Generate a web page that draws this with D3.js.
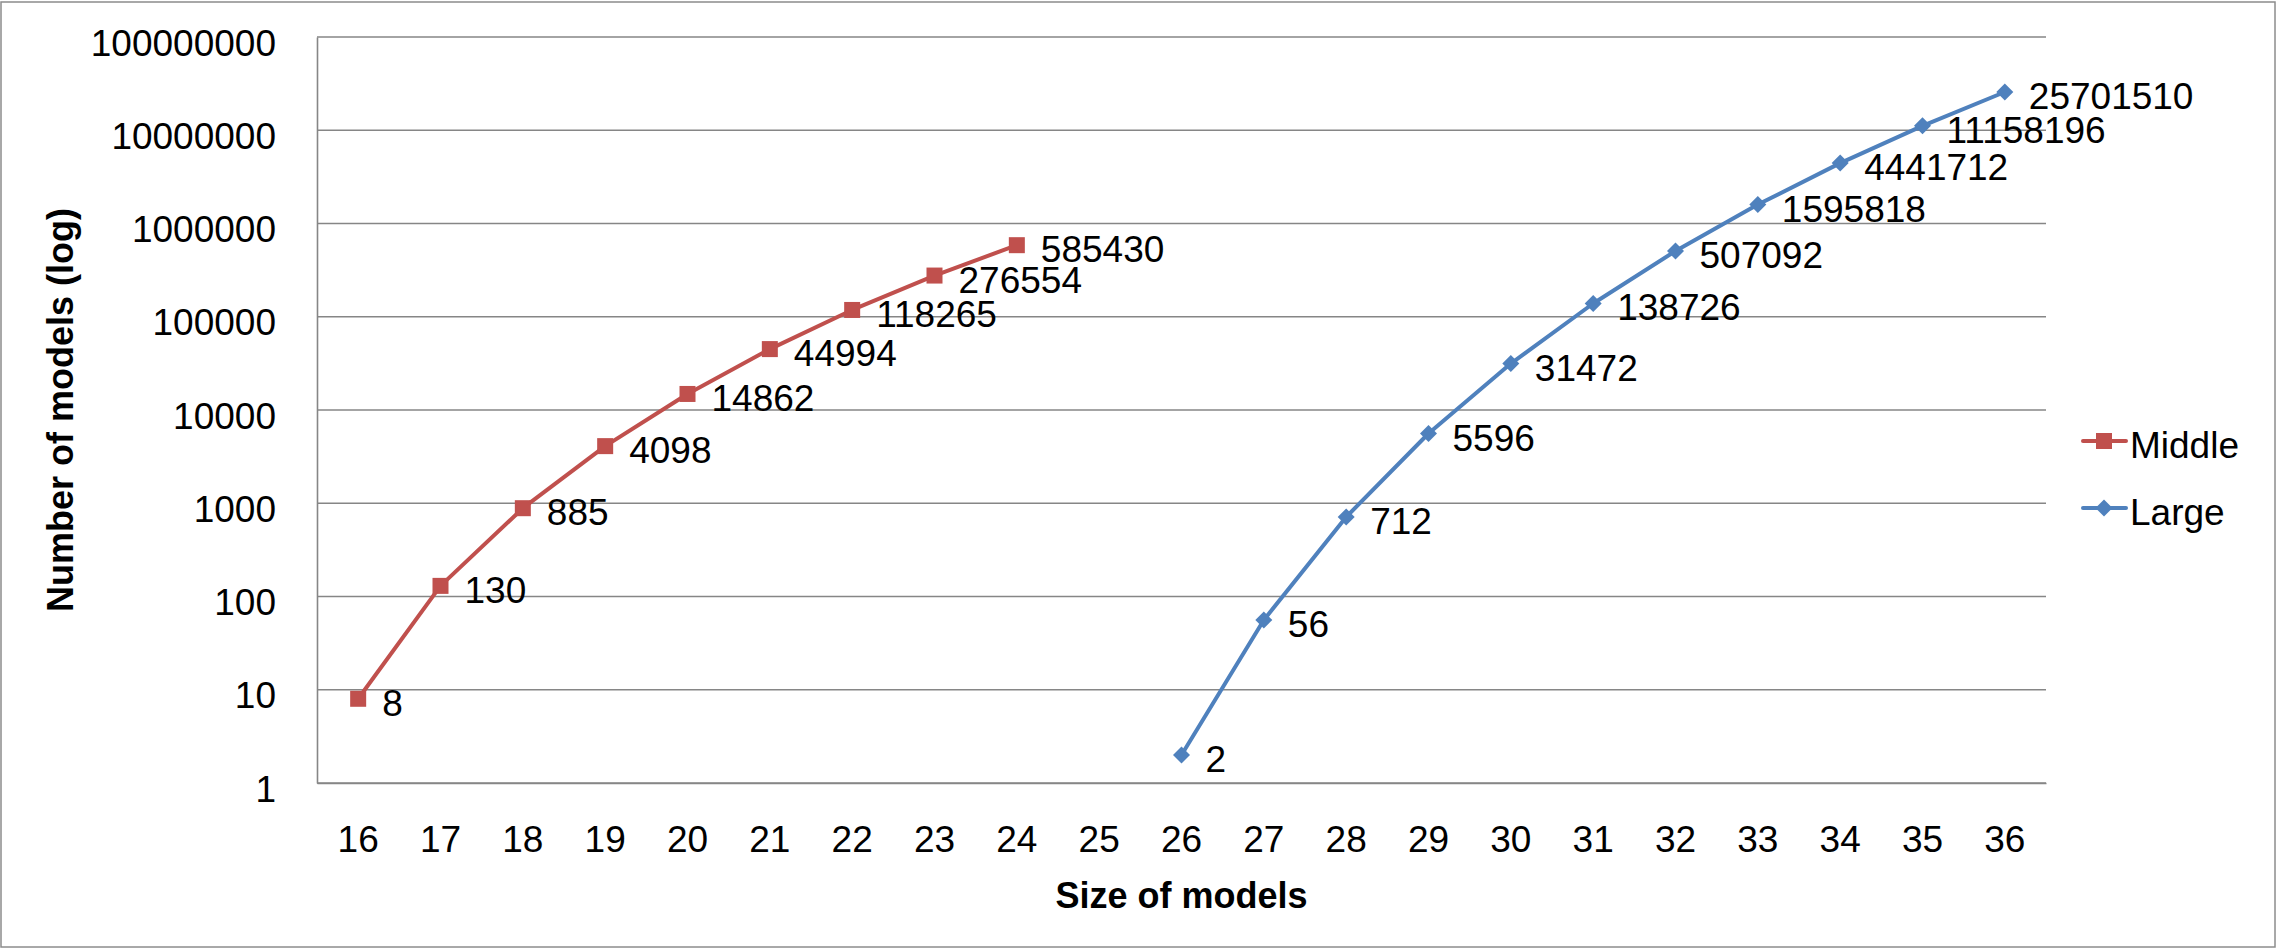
<!DOCTYPE html>
<html>
<head>
<meta charset="utf-8">
<script src="https://cdn.jsdelivr.net/npm/d3@7"></script>
<style>
  html, body { margin: 0; padding: 0; background: #fff; }
  svg { display: block; }
  text { font-family: "Liberation Sans", Arial, sans-serif; fill: #000; }
</style>
</head>
<body>
<svg id="chart" width="2277" height="949"></svg>
<script>
// ---- data ----
const categories = ["16","17","18","19","20","21","22","23","24","25","26","27","28","29","30","31","32","33","34","35","36"];
const middleSizes = ["16","17","18","19","20","21","22","23","24"];
const middleValues = [8, 130, 885, 4098, 14862, 44994, 118265, 276554, 585430];
const largeSizes = ["26","27","28","29","30","31","32","33","34","35","36"];
const largeValues = [2, 56, 712, 5596, 31472, 138726, 507092, 1595818, 4441712, 11158196, 25701510];
const yTicks = [1, 10, 100, 1000, 10000, 100000, 1000000, 10000000, 100000000];
const seriesNames = ["Middle", "Large"];

// ---- layout ----
const W = 2277, H = 949;
const plotL = 317, plotR = 2046, plotT = 37, plotB = 783;
const fontSize = 37;
const red = "#C0504D", blue = "#4F81BD", gridColor = "#868686";

const svg = d3.select("#chart");

svg.append("rect")
  .attr("x", 1).attr("y", 2).attr("width", W - 3).attr("height", H - 4)
  .attr("fill", "#fff").attr("stroke", "#8c8c8c").attr("stroke-width", 1.5);

const x = d3.scaleBand().domain(categories).range([plotL, plotR]).padding(0);
const cx = c => x(c) + x.bandwidth() / 2;
const y = d3.scaleLog().domain([1, 1e8]).range([plotB, plotT]);

// gridlines
svg.append("g").selectAll("line").data(yTicks).join("line")
  .attr("x1", plotL).attr("x2", plotR)
  .attr("y1", d => y(d)).attr("y2", d => y(d))
  .attr("stroke", gridColor).attr("stroke-width", 1.6);

// y axis
const yAxis = svg.append("g").attr("transform", `translate(${plotL},0)`)
  .call(d3.axisLeft(y).tickValues(yTicks).tickFormat(d3.format("d")).tickSize(0).tickSizeOuter(0).tickPadding(41));
yAxis.select(".domain").attr("stroke", gridColor).attr("stroke-width", 1.6);
yAxis.selectAll("text").attr("font-size", fontSize).attr("dy", "0.49em")
  .style("font-family", "'Liberation Sans', Arial, sans-serif");

// x axis
const xAxis = svg.append("g").attr("transform", `translate(0,${plotB})`)
  .call(d3.axisBottom(x).tickSize(0).tickSizeOuter(0).tickPadding(43));
xAxis.select(".domain").attr("stroke", gridColor).attr("stroke-width", 1.6);
xAxis.selectAll("text").attr("font-size", fontSize)
  .style("font-family", "'Liberation Sans', Arial, sans-serif");

// axis titles
svg.append("text")
  .attr("x", (plotL + plotR) / 2).attr("y", 908)
  .attr("text-anchor", "middle").attr("font-size", 36).attr("font-weight", "bold")
  .text("Size of models");
svg.append("text")
  .attr("transform", `translate(73,${(plotT + plotB) / 2}) rotate(-90)`)
  .attr("text-anchor", "middle").attr("font-size", 36).attr("font-weight", "bold")
  .text("Number of models (log)");

const line = d3.line().x(d => cx(d[0])).y(d => y(d[1]));

function drawSeries(sizes, values, color, shape) {
  const pts = sizes.map((s, i) => [s, values[i]]);
  const g = svg.append("g");
  g.append("path").datum(pts).attr("d", line)
    .attr("fill", "none").attr("stroke", color).attr("stroke-width", 4)
    .attr("stroke-linejoin", "round");
  if (shape === "square") {
    g.selectAll("rect").data(pts).join("rect")
      .attr("x", d => cx(d[0]) - 8).attr("y", d => y(d[1]) - 8)
      .attr("width", 16).attr("height", 16).attr("fill", color);
  } else {
    g.selectAll("path.m").data(pts).join("path").attr("class", "m")
      .attr("d", d => { const px = cx(d[0]), py = y(d[1]);
        return `M${px},${py - 8.5}L${px + 8.5},${py}L${px},${py + 8.5}L${px - 8.5},${py}Z`; })
      .attr("fill", color);
  }
  g.selectAll("text").data(pts).join("text")
    .attr("x", d => cx(d[0]) + 24).attr("y", d => y(d[1]) + 17)
    .attr("font-size", fontSize)
    .text(d => d[1]);
}

drawSeries(middleSizes, middleValues, red, "square");
drawSeries(largeSizes, largeValues, blue, "diamond");

// legend
const legend = svg.append("g");
const legendItems = [
  { name: seriesNames[0], color: red, shape: "square", ly: 441 },
  { name: seriesNames[1], color: blue, shape: "diamond", ly: 508 }
];
legendItems.forEach(it => {
  legend.append("line").attr("x1", 2083).attr("x2", 2126).attr("y1", it.ly).attr("y2", it.ly)
    .attr("stroke", it.color).attr("stroke-width", 4).attr("stroke-linecap", "round");
  if (it.shape === "square") {
    legend.append("rect").attr("x", 2096).attr("y", it.ly - 8).attr("width", 16).attr("height", 16).attr("fill", it.color);
  } else {
    legend.append("path").attr("d", `M2104,${it.ly - 8.5}L2112.5,${it.ly}L2104,${it.ly + 8.5}L2095.5,${it.ly}Z`).attr("fill", it.color);
  }
  legend.append("text").attr("x", 2130).attr("y", it.ly + 17).attr("font-size", fontSize).text(it.name);
});
</script>
</body>
</html>
